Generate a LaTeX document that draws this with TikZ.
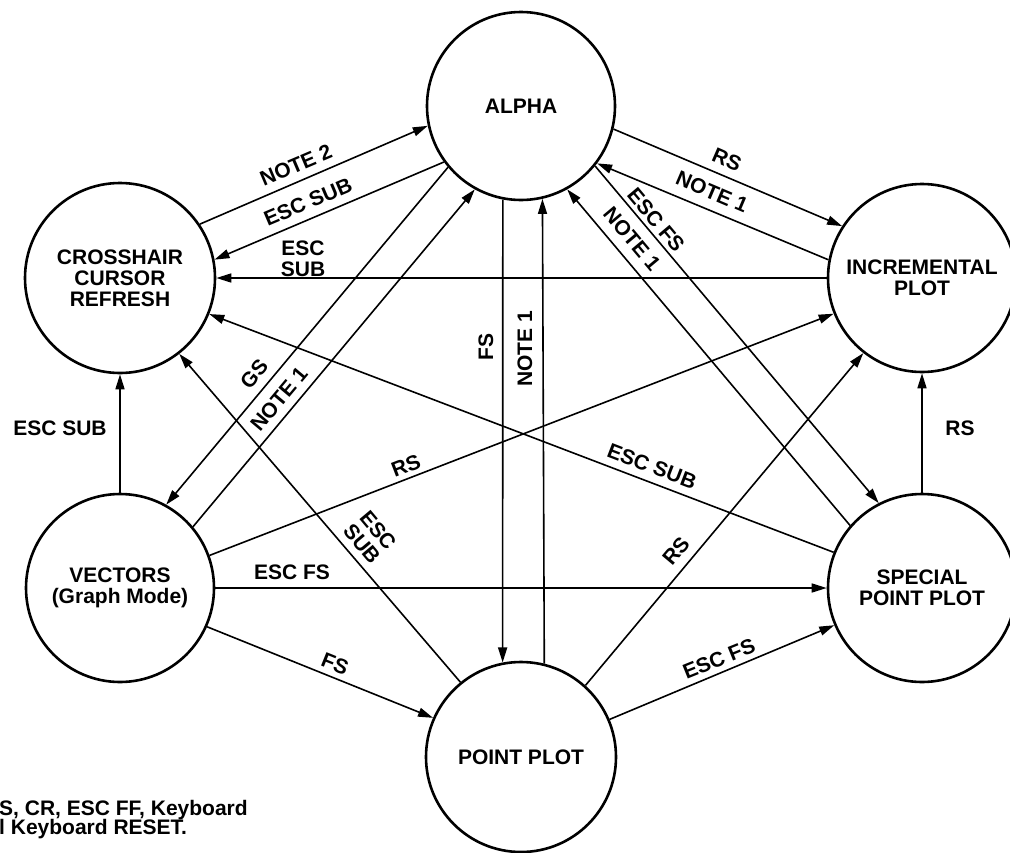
\documentclass[tikz,border=0pt]{standalone}
\usepackage{fontspec}
\setmainfont{Liberation Sans}
\usetikzlibrary{arrows.meta}
\newcommand{\lblfont}{\fontsize{21}{21}\selectfont\bfseries}
\begin{document}
\begin{tikzpicture}[x=1pt,y=-1pt,
  state/.style={circle, draw, line width=2.6pt, minimum size=188pt, inner sep=0pt, align=center, font=\lblfont},
  conn/.style={line width=1.6pt, -{Triangle[length=15pt,width=9pt]}},
  lbl/.style={font=\lblfont, inner sep=0pt, align=center}]
\useasboundingbox (0,0) rectangle (1010,852);
\clip (0,0) rectangle (1010,852);
% states
\node[state] (A) at (521,106) {ALPHA};
\node[state, minimum size=190pt] (C) at (120,278) {CROSSHAIR\\CURSOR\\REFRESH};
\node[state, minimum size=188pt] (I) at (922,278) {INCREMENTAL\\PLOT};
\node[state] (V) at (120,588) {VECTORS\\(Graph Mode)};
\node[state] (S) at (922,588) {SPECIAL\\POINT PLOT};
\node[state, minimum size=190pt] (P) at (521,757) {POINT PLOT};
% connectors
\draw[conn] (C.34.2) -- (A.192.7);
\draw[conn] (A.216.2) -- (C.11);
\draw[conn] (I.west) -- (C.east);
\draw[conn] (A.220) -- (V.61.3);
\draw[conn] (V.40.9) -- (A.241.2);
\draw[conn] (A.259) -- (P.101);
\draw[conn] (P.76.6) -- (A.283.5);
\draw[conn] (A.346.8) -- (I.147.5);
\draw[conn] (I.169.7) -- (A.323.2);
\draw[conn] (A.321.3) -- (S.117.1);
\draw[conn] (S.139.7) -- (A.299.5);
\draw[conn] (V.north) -- (C.south);
\draw[conn] (P.129.6) -- (C.308.8);
\draw[conn] (S.158.1) -- (C.338.3);
\draw[conn] (V.20.8) -- (I.202);
\draw[conn] (V.east) -- (S.west);
\draw[conn] (V.336) -- (P.156.4);
\draw[conn] (P.23.2) -- (S.203.8);
\draw[conn] (P.48.3) -- (I.232.8);
\draw[conn] (S.north) -- (I.south);
% labels
\node[lbl, rotate=23] (l1) at (296,165) {NOTE 2};
\node[lbl, rotate=23] (l2) at (308,202) {ESC SUB};
\node[lbl] (l3) at (303,259) {ESC\\SUB};
\node[lbl, rotate=50] (l4) at (254,374) {GS};
\node[lbl, rotate=50] (l5) at (279,399) {NOTE 1};
\node[lbl, rotate=90] (l6) at (486,347) {FS};
\node[lbl, rotate=90] (l7) at (525,349) {NOTE 1};
\node[lbl, rotate=-23.5] (l8) at (727,160) {RS};
\node[lbl, rotate=-23] (l9) at (712,192) {NOTE 1};
\node[lbl, rotate=-50] (l10) at (656,220) {ESC FS};
\node[lbl, rotate=-50] (l11) at (632,239) {NOTE 1};
\node[lbl] (l12) at (60,428) {ESC SUB};
\node[lbl] (l13) at (960,428) {RS};
\node[lbl, rotate=-50] (l14) at (370,537) {ESC\\SUB};
\node[lbl, rotate=-21] (l15) at (652,466) {ESC SUB};
\node[lbl, rotate=21] (l16) at (406,466) {RS};
\node[lbl] (l17) at (292,572) {ESC FS};
\node[lbl, rotate=-22] (l18) at (335,664) {FS};
\node[lbl, rotate=22] (l19) at (719,659) {ESC FS};
\node[lbl, rotate=50] (l20) at (676,551) {RS};
% footnote
\node[lbl, anchor=west] (n1) at (-1,810) {S, CR, ESC FF, Keyboard};
\node[lbl, anchor=west] (n2) at (-1,829) {l Keyboard RESET.};
\end{tikzpicture}
\end{document}
